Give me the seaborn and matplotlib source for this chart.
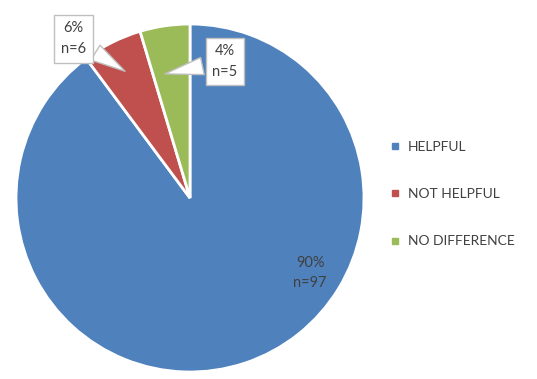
import matplotlib
matplotlib.use('Agg')
import matplotlib.pyplot as plt
from matplotlib.lines import Line2D
import seaborn as sns

# ── Datos ──────────────────────────────────────────────────────────────────────
categories = ['HELPFUL', 'NOT HELPFUL', 'NO DIFFERENCE']
counts     = [97, 6, 5]
pct_labels = ['90%', '6%', '4%']
colors     = ['#4F81BD', '#C0504D', '#9BBB59']

sns.set_theme(style='white')
plt.rcParams['font.family'] = ['Lato', 'DejaVu Sans']
text_color = '#404040'

fig = plt.figure(figsize=(5.37, 3.79), dpi=100)
ax = fig.add_axes([16 / 537, 7 / 379, 348 / 537, 348 / 379])

wedges, _ = ax.pie(counts, colors=colors, startangle=90, counterclock=False,
                   radius=1.0, wedgeprops=dict(edgecolor='white', linewidth=2))
ax.set_xlim(-1, 1)
ax.set_ylim(-1, 1)
ax.set_aspect('equal')

labels = [f'{p}\nn={n}' for p, n in zip(pct_labels, counts)]

# etiqueta interior
ax.text(0.69, -0.43, labels[0], ha='center', va='center',
        fontsize=10.5, color=text_color, linespacing=1.6)

# etiquetas con llamada
box = dict(boxstyle='square,pad=0.45', fc='white', ec='#BFBFBF', lw=1)
arrow = dict(arrowstyle='wedge,tail_width=1.2,shrink_factor=0.5',
             fc='white', ec='#BFBFBF', lw=1)
ax.annotate(labels[1], xy=(-0.36, 0.72), xytext=(-0.67, 0.915),
            ha='center', va='center', fontsize=10.5, color=text_color,
            linespacing=1.6, bbox=box, arrowprops=arrow, annotation_clip=False)
ax.annotate(labels[2], xy=(-0.16, 0.71), xytext=(0.2, 0.785),
            ha='center', va='center', fontsize=10.5, color=text_color,
            linespacing=1.6, bbox=box, arrowprops=arrow, annotation_clip=False)

handles = [Line2D([0], [0], marker='s', color='none', markerfacecolor=c,
                  markeredgecolor=c, markersize=5) for c in colors]
leg = fig.legend(handles, categories, loc='center left',
                 bbox_to_anchor=(377 / 537, 1 - 194 / 379), frameon=False,
                 fontsize=10, handlelength=0.8, handletextpad=0.5,
                 labelspacing=2.55)
for t in leg.get_texts():
    t.set_color(text_color)

fig.savefig('out.png', dpi=100)
